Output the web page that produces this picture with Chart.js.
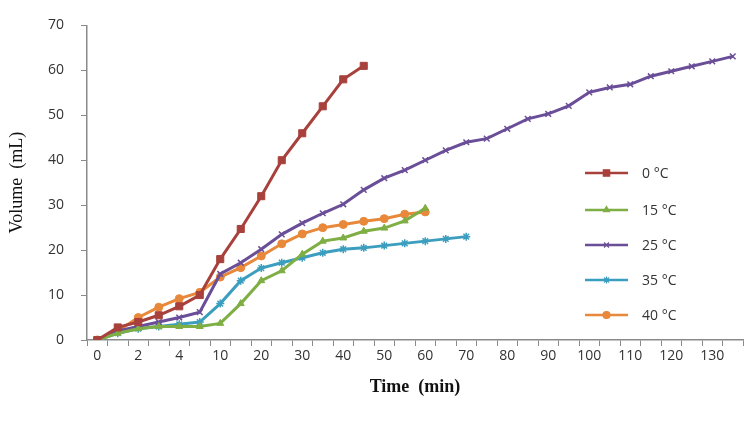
<!DOCTYPE html>
<html>
<head>
<meta charset="utf-8">
<script src="https://cdn.jsdelivr.net/npm/chart.js@4"></script>
<style>
  html, body { margin: 0; padding: 0; background: #fff; overflow: hidden; }
  #wrap { width: 749px; height: 421px; }
</style>
</head>
<body>
<div id="wrap"><canvas id="c" width="749" height="421"></canvas></div>
<script>
// time categories (min) - excel style category axis
const times = [0, 1, 2, 3, 4, 5, 10, 15, 20, 25, 30, 35, 40, 45, 50, 55, 60, 65, 70,
  75, 80, 85, 90, 95, 100, 105, 110, 115, 120, 125, 130, 135];
const yTicks = [0, 10, 20, 30, 40, 50, 60, 70];

// volume (mL) per temperature
const vol0 = [0, 2.8, 4, 5.5, 7.5, 10, 18, 24.7, 32, 40, 46, 52, 58, 61];
const vol15 = [0, 1.5, 2.5, 3, 3, 3, 3.7, 8.1, 13.2, 15.4, 19.1, 22, 22.7, 24.2, 24.9, 26.5, 29.3];
const vol25 = [0, 2, 3, 4, 5, 6.2, 14.7, 17.2, 20.2, 23.5, 26, 28.2, 30.2, 33.4, 36, 37.8, 40,
  42.2, 44, 44.8, 47, 49.2, 50.3, 52.1, 55.1, 56.2, 56.9, 58.7, 59.8, 60.9, 62, 63.1];
const vol35 = [0, 1.5, 2.5, 3, 3.5, 4, 8.1, 13.2, 16, 17.2, 18.3, 19.4, 20.2, 20.5, 21, 21.5, 22, 22.5, 23];
const vol40 = [0, 2, 5, 7.3, 9.2, 10.6, 14, 16.1, 18.7, 21.4, 23.6, 25, 25.7, 26.4, 27, 28, 28.5];

const seriesNames = ['0 °C', '15 °C', '25 °C', '35 °C', '40 °C'];
const seriesColors = ['#A8413C', '#7FAE44', '#6A4E98', '#3C9EBE', '#E8883A'];
const seriesMarkers = ['rect', 'triangle', 'crossRot', 'star', 'circle'];
const seriesData = [vol0, vol15, vol25, vol35, vol40];

const axisColor = '#8a8a8a';
const tickFont = { family: 'Open Sans', size: 14 };

const datasets = seriesData.map((d, i) => ({
  label: seriesNames[i],
  data: d,
  borderColor: seriesColors[i],
  backgroundColor: seriesColors[i],
  borderWidth: 3,
  pointStyle: seriesMarkers[i],
  pointRadius: i === 0 ? 5 : 4,
  pointBorderWidth: i === 2 || i === 3 ? 1.5 : 1,
  tension: 0
}));

// vertical legend inside plot, excel-like
const sideLegend = {
  id: 'sideLegend',
  afterDraw(chart) {
    const ctx = chart.ctx;
    const x0 = 585, x1 = 628, rows = [173, 210, 245, 280, 315];
    ctx.save();
    chart.data.datasets.forEach((ds, i) => {
      const y = rows[i];
      ctx.strokeStyle = ds.borderColor;
      ctx.fillStyle = ds.backgroundColor;
      ctx.lineWidth = 2.5;
      ctx.beginPath();
      ctx.moveTo(x0, y);
      ctx.lineTo(x1, y);
      ctx.stroke();
      ctx.lineWidth = 1.2;
      Chart.helpers.drawPoint(ctx, {
        pointStyle: ds.pointStyle, radius: ds.pointRadius - 0.5, borderWidth: 1.2
      }, (x0 + x1) / 2, y);
      ctx.fillStyle = '#333';
      ctx.font = '14px "Open Sans"';
      ctx.textBaseline = 'middle';
      ctx.fillText(ds.label, 642, y + 1);
    });
    ctx.restore();
  }
};

new Chart(document.getElementById('c'), {
  type: 'line',
  data: { labels: times, datasets },
  plugins: [sideLegend],
  options: {
    responsive: false,
    animation: false,
    layout: { padding: { top: 12, right: 0, bottom: 21, left: 0 } },
    plugins: { legend: { display: false }, tooltip: { enabled: false } },
    scales: {
      x: {
        type: 'category',
        offset: true,
        grid: { offset: true, drawOnChartArea: false, tickLength: 6, color: axisColor },
        border: { color: axisColor, width: 1.5 },
        ticks: {
          autoSkip: false, maxRotation: 0, color: '#333', font: tickFont, padding: 2,
          callback: (v, i) => (i % 2 === 0 ? times[i] : '')
        },
        title: {
          display: true, text: 'Time  (min)', color: '#111',
          font: { family: 'Liberation Serif', size: 18, weight: 'bold' }, padding: { top: 4, bottom: 2 }
        },
        afterFit: s => { s.height = 60; }
      },
      y: {
        min: 0, max: 70,
        afterBuildTicks: s => { s.ticks = yTicks.map(v => ({ value: v })); },
        grid: { drawOnChartArea: false, tickLength: 6, color: axisColor },
        border: { color: axisColor, width: 1.5 },
        ticks: { color: '#333', font: tickFont, padding: 17 },
        title: {
          display: true, text: 'Volume  (mL)', color: '#111',
          font: { family: 'Liberation Serif', size: 18 }, padding: { top: 6, bottom: 0 }
        },
        afterFit: s => { s.width = 87; }
      }
    }
  }
});
</script>
</body>
</html>
